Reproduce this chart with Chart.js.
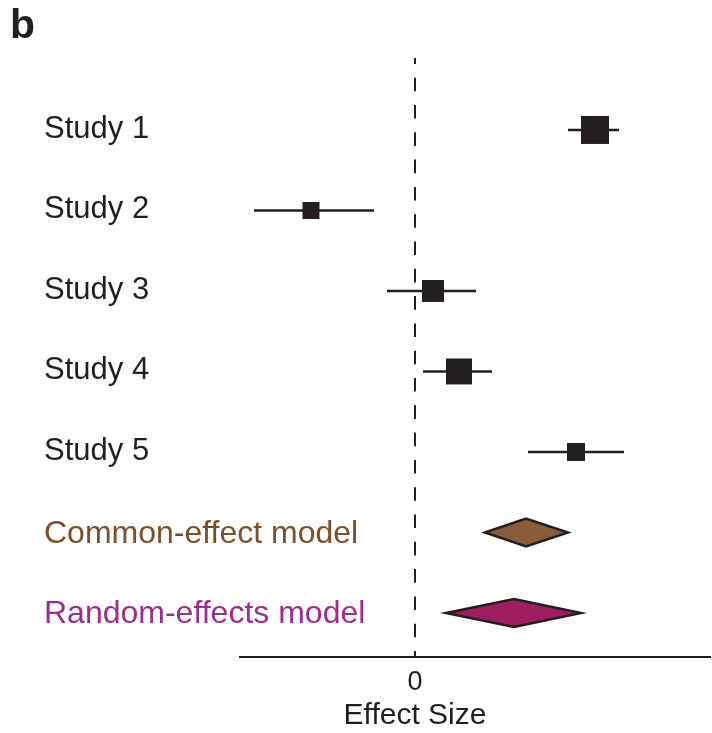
<!DOCTYPE html>
<html><head><meta charset="utf-8">
<script src="https://cdn.jsdelivr.net/npm/chart.js@4/dist/chart.umd.min.js"></script>
<style>html,body{margin:0;padding:0;background:#fff;overflow:hidden;}#wrap{width:712px;height:733px;position:relative;}canvas{display:block;}</style>
</head><body><div id="wrap"><canvas id="c" width="712" height="733"></canvas></div>
<script>
// ---- data ----
const rowLabels = ['Study 1','Study 2','Study 3','Study 4','Study 5','Common-effect model','Random-effects model'];
const studyEffect = [1.80, -1.04, 0.18, 0.44, 1.61];
const studyLower  = [1.53, -1.61, -0.28, 0.08, 1.13];
const studyUpper  = [2.04, -0.41, 0.61, 0.77, 2.09];
const studyWeight = [30.7, 11.3, 18.9, 26.4, 12.7];
const modelEffect = [1.11, 0.99];
const modelLower  = [0.70, 0.31];
const modelUpper  = [1.53, 1.66];
const xTickValues = [0];
const xTitle = 'Effect Size';
const panelLetter = 'b';

// ---- style ----
const INK = '#231f20';
const labelColors = [INK, INK, INK, INK, INK, '#7b4f2c', '#9b2d8f'];
const diamondFill = ['#8a5c3a', '#9d1d5f'];
const FONT = '"Liberation Sans", Arial, Helvetica, sans-serif';
Chart.defaults.font.family = FONT;
Chart.defaults.color = INK;

const maxW = Math.max(...studyWeight);
const sideFor = w => 28 * Math.sqrt(w / maxW);

const datasets = [];
datasets.push({
  type: 'scatter',
  data: studyEffect.map((v, i) => ({x: v, y: i})),
  pointStyle: 'rect',
  pointRadius: ctx => sideFor(studyWeight[ctx.dataIndex]) * Math.SQRT1_2,
  pointHoverRadius: ctx => sideFor(studyWeight[ctx.dataIndex]) * Math.SQRT1_2,
  backgroundColor: INK,
  borderWidth: 0
});
studyEffect.forEach((v, i) => {
  datasets.push({
    type: 'line',
    data: [{x: studyLower[i], y: i}, {x: studyUpper[i], y: i}],
    borderColor: INK,
    borderWidth: 2.5,
    pointRadius: 0,
    fill: false
  });
});

const extras = {
  id: 'extras',
  afterDatasetsDraw(chart) {
    const {ctx, scales: {x, y}} = chart;
    ctx.save();
    modelEffect.forEach((m, i) => {
      const yp = y.getPixelForValue(studyEffect.length + i);
      const xl = x.getPixelForValue(modelLower[i]);
      const xc = x.getPixelForValue(m);
      const xr = x.getPixelForValue(modelUpper[i]);
      const h = 14;
      ctx.beginPath();
      ctx.moveTo(xl, yp);
      ctx.lineTo(xc, yp - h);
      ctx.lineTo(xr, yp);
      ctx.lineTo(xc, yp + h);
      ctx.closePath();
      ctx.fillStyle = diamondFill[i];
      ctx.fill();
      ctx.lineWidth = 2.5;
      ctx.lineJoin = 'miter';
      ctx.strokeStyle = INK;
      ctx.stroke();
    });
    ctx.restore();
  },
  afterDraw(chart) {
    const {ctx, scales: {x, y}} = chart;
    ctx.save();
    ctx.textAlign = 'left';
    ctx.textBaseline = 'alphabetic';
    rowLabels.forEach((lab, i) => {
      const isModel = i >= studyEffect.length;
      ctx.font = (isModel ? 32 : 31) + 'px ' + FONT;
      ctx.fillStyle = labelColors[i];
      ctx.fillText(lab, y.left, y.getPixelForValue(i) + (isModel ? 10.5 : 8));
    });
    ctx.font = '30px ' + FONT;
    ctx.fillStyle = INK;
    ctx.textAlign = 'center';
    ctx.fillText(xTitle, x.getPixelForValue(0), 724);
    ctx.font = 'bold 41px ' + FONT;
    ctx.textAlign = 'left';
    ctx.fillText(panelLetter, 10, 38);
    ctx.restore();
  }
};

new Chart(document.getElementById('c'), {
  data: { datasets },
  plugins: [extras],
  options: {
    responsive: false,
    animation: false,
    devicePixelRatio: 1,
    layout: { autoPadding: false, padding: { left: 44, right: 2, top: 58, bottom: 0 } },
    plugins: { legend: { display: false }, tooltip: { enabled: false }, title: { display: false } },
    scales: {
      x: {
        type: 'linear',
        min: -1.75, max: 2.95,
        afterBuildTicks: s => { s.ticks = xTickValues.map(v => ({value: v})); },
        afterFit: s => { s.height = 76; s.paddingLeft = 0; s.paddingRight = 0; },
        grid: { display: true, drawTicks: false, color: INK, lineWidth: 2 },
        border: { display: true, color: INK, width: 2, dash: [13.6, 13.7], dashOffset: 7.6 },
        ticks: { font: { size: 27 }, color: INK, padding: 9, callback: v => String(v) },
        title: { display: false }
      },
      y: {
        type: 'linear',
        reverse: true,
        min: -0.894, max: 6.547,
        afterBuildTicks: s => { s.ticks = rowLabels.map((_, i) => ({value: i})); },
        afterFit: s => { s.width = 196; s.paddingTop = 0; s.paddingBottom = 0; },
        grid: { display: false },
        border: { display: false },
        ticks: { display: false }
      }
    }
  }
});
</script>
</body></html>
